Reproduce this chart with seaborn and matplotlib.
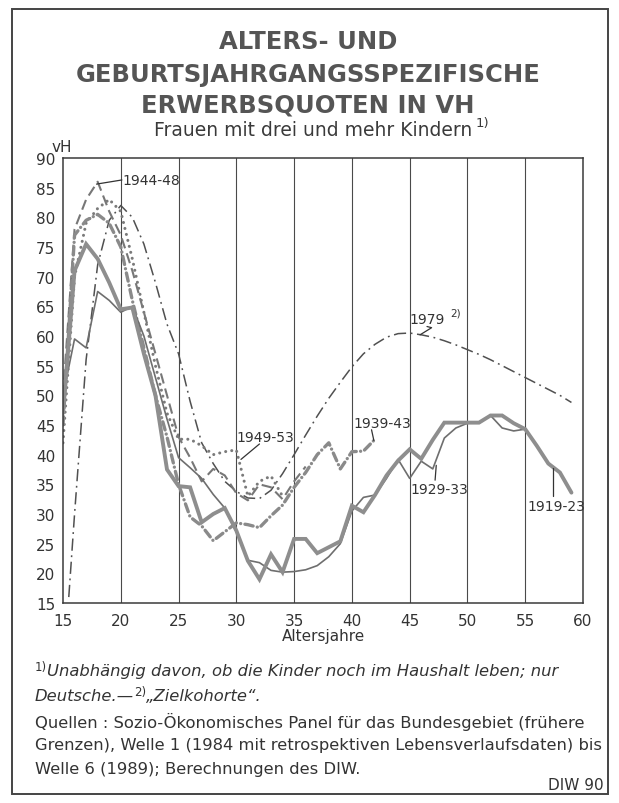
import numpy as np
import pandas as pd
import seaborn as sns
import matplotlib.pyplot as plt
from matplotlib import font_manager
from matplotlib.patches import Rectangle

# Erwerbsquoten in vH nach Alter
ages_1919 = list(range(15, 60))
vals_1919 = [47, 71, 75.5, 73, 69, 64.5, 64.8, 57, 50, 37.5,
             34.7, 34.5, 28.6, 30, 31, 27.2, 22.1, 19, 23.2, 20.2,
             25.8, 25.8, 23.4, 24.4, 25.4, 31.4, 30.3, 33.2, 36.5, 39,
             40.9, 39.3, 42.5, 45.4, 45.4, 45.4, 45.4, 46.6, 46.6, 45.3,
             44.3, 41.5, 38.5, 37, 33.6]

ages_1929 = list(range(15, 56))
vals_1929 = [50, 59.5, 58, 67.5, 66, 64, 65, 60, 53, 46,
             39.5, 37.8, 36, 33.3, 31, 27, 22.2, 21.8, 20.5, 20.2,
             20.3, 20.6, 21.3, 22.8, 25, 30.5, 32.8, 33.2, 36, 39.2,
             36, 38.9, 37.6, 42.8, 44.5, 45.3, 45.3, 46.6, 44.5, 44,
             44.3]

ages_1939 = list(range(15, 43))
vals_1939 = [45, 77, 79.5, 80.5, 79, 75, 66, 58, 50, 43,
             35, 29.5, 28, 25.5, 27, 28.5, 28.2, 27.7, 29.7, 31.5,
             34.5, 37, 40, 42, 37.6, 40.5, 40.6, 42.6]

ages_1944 = list(range(15, 37))
vals_1944 = [50, 78, 83, 86, 81, 77, 71, 64, 57, 50,
             43, 39.5, 35.5, 37.6, 36.5, 33.5, 32.3, 35, 34.5, 32.5,
             35.5, 38]

ages_1949 = list(range(15, 35))
vals_1949 = [42, 70, 79, 81.5, 83, 81, 73, 64, 55, 47,
             42.6, 42.6, 41.5, 40, 40.5, 40.8, 33, 35.5, 36.4, 33]

ages_1979 = [15.5] + list(range(16, 60))
vals_1979 = [16, 30, 56, 72, 79.5, 82, 80, 75.5, 69, 62,
             57, 49, 42, 38.5, 35.5, 33.8, 32.7, 32.6, 34, 36.8,
             40, 43.3, 46.5, 49.5, 52.2, 54.8, 57, 58.6, 59.8, 60.4,
             60.5, 60.2, 59.8, 59.2, 58.5, 57.7, 56.9, 56, 55, 54,
             53, 52, 51, 50, 48.8]

x_ticks = [15, 20, 25, 30, 35, 40, 45, 50, 55, 60]
y_ticks = [15, 20, 25, 30, 35, 40, 45, 50, 55, 60, 65, 70, 75, 80, 85, 90]

sns.set_style('white')
plt.rcParams['font.family'] = ['DejaVu Sans']

names = {f.name for f in font_manager.fontManager.ttflist}
if 'Liberation Sans Narrow' in names:
    narrow, narrow_size = ['Liberation Sans Narrow', 'DejaVu Sans'], 13
else:
    narrow, narrow_size = ['DejaVu Sans'], 10

W, H = 619, 804
fig = plt.figure(figsize=(W / 100, H / 100), dpi=100)
fig.patch.set_facecolor('white')
renderer = fig.canvas.get_renderer()

def fx(px):
    return px / W

def fy(py):
    return 1 - py / H

def text_run(px, py, pieces):
    """Write text pieces one after another; pieces are (text, size, rise, style)"""
    for txt, size, rise, style in pieces:
        t = fig.text(fx(px), fy(py - rise), txt, ha='left', va='center', fontsize=size,
                     style=style, color='#333333')
        px = t.get_window_extent(renderer).x1

ax = fig.add_axes([fx(63), fy(604), fx(583) - fx(63), fy(159) - fy(604)])

series = [
    (ages_1979, vals_1979, dict(color='#505050', lw=1.1, linestyle=(0, (8, 3, 1.2, 3)))),
    (ages_1944, vals_1944, dict(color='#777777', lw=1.5, linestyle=(0, (5, 2.5)))),
    (ages_1949, vals_1949, dict(color='#7a7a7a', lw=2.2, linestyle=(0, (0.01, 2.0)),
                                dash_capstyle='round')),
    (ages_1939, vals_1939, dict(color='#8a8a8a', lw=2.4, linestyle=(0, (2.5, 1.3, 0.01, 1.3)),
                                dash_capstyle='round')),
    (ages_1929, vals_1929, dict(color='#6e6e6e', lw=1.2)),
    (ages_1919, vals_1919, dict(color='#8e8e8e', lw=2.8, solid_joinstyle='miter')),
]
for ages, vals, style in series:
    sns.lineplot(x=ages, y=vals, ax=ax, errorbar=None, **style)

ax.set_xlim(15, 60)
ax.set_ylim(15, 90)
ax.set_xticks(x_ticks)
ax.set_yticks(y_ticks)
ax.tick_params(axis='y', direction='inout', length=9, width=1, colors='#333333',
               labelsize=11, pad=1)
ax.tick_params(axis='x', direction='out', length=4, width=1, colors='#333333',
               labelsize=11, pad=3)
for s in ax.spines.values():
    s.set_color('#3a3a3a')
    s.set_linewidth(1.1)
for xv in x_ticks[1:-1]:
    ax.axvline(xv, color='#4a4a4a', lw=0.8, zorder=0)
ax.set_xlabel('Altersjahre', fontsize=11, color='#333333', labelpad=0)
ax.set_ylabel('')

# Beschriftung der Kurven
lab = dict(fontsize=narrow_size, family=narrow, color='#333333', va='center', ha='left')
lead = dict(color='#333333', lw=0.9)
ax.text(20.15, 86.3, '1944-48', **lab)
ax.plot([17.9, 20.1], [85.6, 86.3], **lead)
ax.text(45.0, 62.9, '1979', **lab)
ax.text(48.5, 63.9, '2)', fontsize=narrow_size * 0.75, family=narrow, color='#333333',
        va='center', ha='left')
ax.plot([45.9, 46.9, 46.5], [60.2, 61.4, 61.6], **lead)
ax.text(30.0, 43.0, '1949-53', **lab)
ax.plot([30.4, 32.0], [39.2, 41.8], **lead)
ax.text(40.1, 45.4, '1939-43', **lab)
ax.plot([41.7, 41.9], [44.2, 42.4], **lead)
ax.text(45.1, 34.2, '1929-33', **lab)
ax.plot([47.3, 47.2], [38.2, 35.7], **lead)
ax.text(55.2, 31.4, '1919-23', **lab)
ax.plot([57.4, 57.4], [37.8, 33.0], **lead)

# Titel
for txt, py in [('ALTERS- UND', 42), ('GEBURTSJAHRGANGSSPEZIFISCHE', 75),
                ('ERWERBSQUOTEN IN VH', 105)]:
    fig.text(fx(308), fy(py), txt, ha='center', va='center', fontsize=17.5,
             fontweight='bold', color='#555555')
fig.text(fx(313), fy(131), 'Frauen mit drei und mehr Kindern', ha='center', va='center',
         fontsize=13.5, color='#3a3a3a')
fig.text(fx(476), fy(124), '1)', ha='left', va='center', fontsize=9.5, color='#3a3a3a')
fig.text(fx(62), fy(147), 'vH', ha='center', va='center', fontsize=11, color='#333333')

# Fussnoten und Quellen
fs = 11.8
text_run(35, 672, [('1)', 8.5, 4, 'normal'),
                   ('Unabhängig davon, ob die Kinder noch im Haushalt leben; nur', fs, 0, 'italic')])
text_run(35, 697, [('Deutsche.—', fs, 0, 'italic'), ('2)', 8.5, 4, 'normal'),
                   ('„Zielkohorte“.', fs, 0, 'italic')])
text_run(35, 722, [('Quellen : Sozio-Ökonomisches Panel für das Bundesgebiet (frühere', fs, 0, 'normal')])
text_run(35, 746, [('Grenzen), Welle 1 (1984 mit retrospektiven Lebensverlaufsdaten) bis', fs, 0, 'normal')])
text_run(35, 770, [('Welle 6 (1989); Berechnungen des DIW.', fs, 0, 'normal')])
fig.text(fx(604), fy(786), 'DIW 90', ha='right', va='center', fontsize=11, color='#333333')

fig.patches.append(Rectangle((fx(12), fy(795)), fx(608) - fx(12), fy(10) - fy(795),
                             transform=fig.transFigure, fill=False, lw=1.4,
                             edgecolor='#444444'))

fig.savefig('out.png', dpi=100)
